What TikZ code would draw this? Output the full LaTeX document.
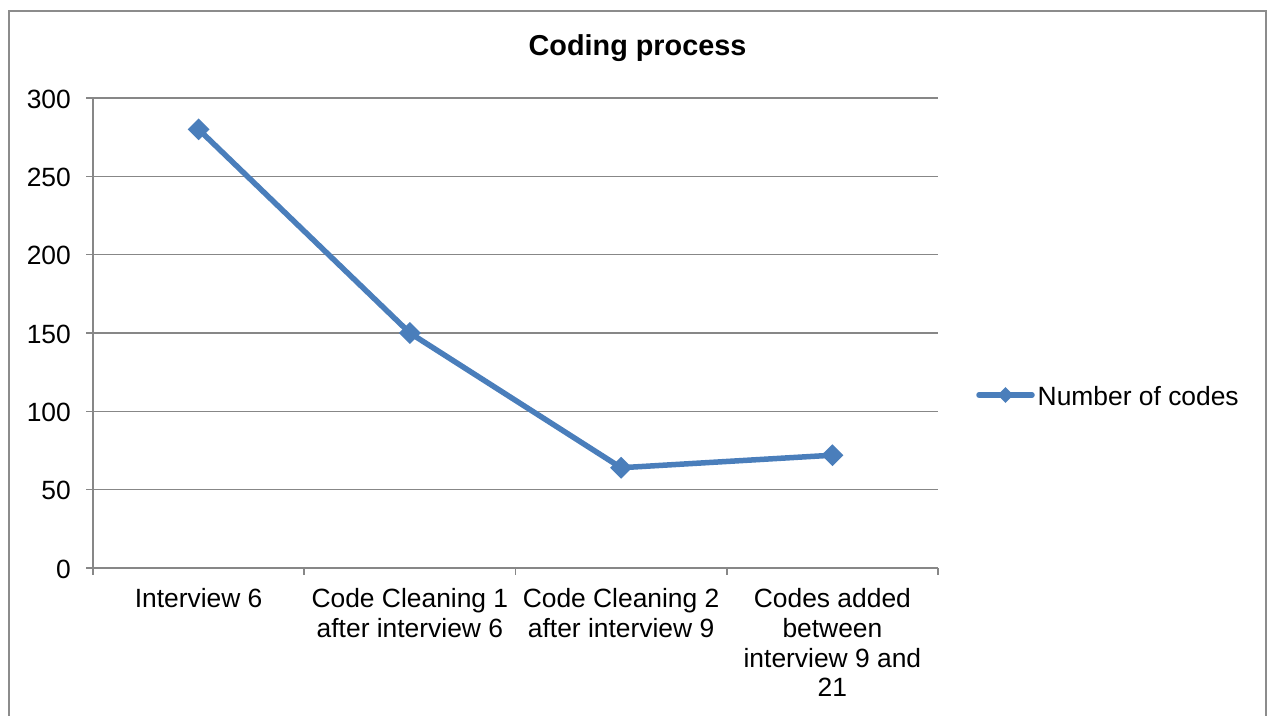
\documentclass[tikz,border=0pt]{standalone}
\usepackage{fontspec}
\setmainfont{Liberation Sans}
\usetikzlibrary{shapes.geometric}
\definecolor{serieblue}{HTML}{4A7EBB}
\definecolor{gridgray}{HTML}{878787}
\definecolor{framegray}{HTML}{8C8C8C}
\begin{document}
\begin{tikzpicture}[x=1pt,y=-1pt,
  gridline/.style={draw=gridgray,line width=1.6pt},
  ylab/.style={anchor=east,inner sep=0pt,font=\fontsize{26.4}{30}\selectfont},
  xlab/.style={anchor=north,inner sep=0pt,align=center,font=\fontsize{26.4}{29.7}\selectfont},
  datamark/.style={diamond,fill=serieblue,inner sep=0pt,minimum width=22pt,minimum height=22pt},
  legmark/.style={diamond,fill=serieblue,inner sep=0pt,minimum width=16pt,minimum height=16pt},
  series/.style={draw=serieblue,line width=5.5pt,line join=round,line cap=round}]
\useasboundingbox (0,0) rectangle (1272,715);
\fill[white] (0,0) rectangle (1272,715);
% outer frame (open at bottom)
\draw[draw=framegray,line width=2pt] (8.5,720) -- (8.5,10.5) -- (1266,10.5) -- (1266,720);
% title
\node[font=\bfseries\fontsize{28.8}{32}\selectfont,inner sep=0pt] (title) at (637.5,48.5) {Coding process};
% gridlines
\foreach \v in {50,100,150,200,250,300}{
  \draw[gridline] (86,{568-1.5667*\v}) -- (938,{568-1.5667*\v});
}
% axes
\draw[gridline] (93,98) -- (93,575);
\draw[gridline] (86,568) -- (938,568);
\foreach \x in {304.25,515.5,726.75,938}{
  \draw[gridline] (\x,568) -- (\x,575);
}
% y labels
\foreach \v in {0,50,100,150,200,250,300}{
  \node[ylab] (y\v) at (71,{569-1.5667*\v}) {\v};
}
% x labels
\node[xlab] (c1) at (198.6,588.5) {Interview 6};
\node[xlab] (c2) at (409.9,588.5) {Code Cleaning 1\\after interview 6};
\node[xlab] (c3) at (621.1,588.5) {Code Cleaning 2\\after interview 9};
\node[xlab] (c4) at (832.4,588.5) {Codes added\\between\\interview 9 and\\21};
% data
\coordinate (p1) at (198.6,{568-1.5667*280});
\coordinate (p2) at (409.9,{568-1.5667*150});
\coordinate (p3) at (621.1,{568-1.5667*64});
\coordinate (p4) at (832.4,{568-1.5667*72});
\draw[series] (p1) -- (p2) -- (p3) -- (p4);
\node[datamark] (m1) at (p1) {};
\node[datamark] (m2) at (p2) {};
\node[datamark] (m3) at (p3) {};
\node[datamark] (m4) at (p4) {};
% legend
\coordinate (la) at (979,395);
\coordinate (lb) at (1032,395);
\draw[series] (la) -- (lb);
\node[legmark] (lm) at (1005.5,395) {};
\node[anchor=west,inner sep=0pt,font=\fontsize{26.4}{30}\selectfont] (leg) at (1037.5,396) {Number of codes};
\end{tikzpicture}
\end{document}
